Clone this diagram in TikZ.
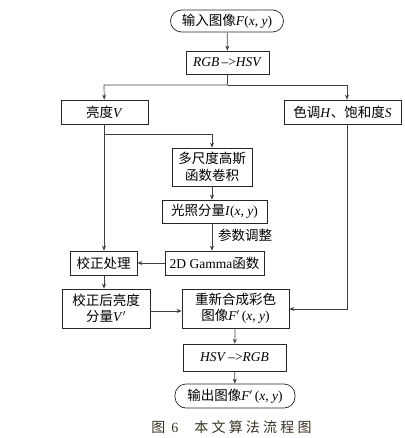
\documentclass[tikz,border=0pt]{standalone}
\usepackage{fontspec}
\setmainfont{Liberation Serif}
\newfontfamily\cjk{Noto Sans CJK SC}
\usetikzlibrary{arrows.meta}
\definecolor{capcol}{RGB}{55,50,35}
\tikzset{
  box/.style={draw=black!85, line width=0.7pt, rectangle, inner sep=1pt, align=center, font=\fontsize{13.5}{16.5}\selectfont},
  term/.style={box, rounded corners=11pt},
  conn/.style={draw=black!75, line width=0.7pt},
  arr/.style={conn, -{Stealth[length=5pt,width=4pt]}},
}
\newcommand{\cs}[1]{\hspace{3.2pt}#1}
\begin{document}
\begin{tikzpicture}[x=1pt,y=-1pt]
\useasboundingbox (0,0) rectangle (404,438);
\node[term, minimum width=113pt, minimum height=22pt] (in) at (227,21) {{\cjk 输入图像}\textit{F}(\textit{x}, \textit{y})};
\node[box, minimum width=83pt, minimum height=23pt] (rgb) at (227.5,62.5) {\textit{RGB}\,–>\textit{HSV}};
\node[box, minimum width=87pt, minimum height=24pt] (V) at (104.5,112) {{\cjk 亮度}\textit{V}};
\node[box, minimum width=117pt, minimum height=24pt] (HS) at (342.5,112) {{\cjk 色调}\textit{H}{\cjk 、饱和度}\textit{S}};
\node[box, minimum width=80pt, minimum height=38pt] (ms) at (212,167) {\cjk 多尺度高斯\\\cjk 函数卷积};
\node[box, minimum width=105pt, minimum height=23pt] (lf) at (214.5,211.5) {{\cjk 光照分量}\textit{I}(\textit{x}, \textit{y})};
\node[box, minimum width=99pt, minimum height=24pt] (gm) at (214.5,263) {2D Gamma{\cjk 函数}};
\node[box, minimum width=67pt, minimum height=24pt] (jz) at (103.5,263) {\cjk 校正处理};
\node[box, minimum width=88pt, minimum height=39pt] (jzh) at (106,308.5) {\cjk 校正后亮度\\{\cjk 分量}\textit{V}$'$};
\node[box, minimum width=107pt, minimum height=39pt] (cs) at (235.5,308.5) {\cjk 重新合成彩色\\{\cjk 图像}\textit{F}$'$\,(\textit{x}, \textit{y})};
\node[box, minimum width=103pt, minimum height=27pt] (hr) at (234.5,357.5) {\textit{HSV}\,–>\textit{RGB}};
\node[term, minimum width=120pt, minimum height=24pt] (out) at (235,396) {{\cjk 输出图像}\textit{F}$'$\,(\textit{x}, \textit{y})};
\node[font=\fontsize{14}{16}\selectfont, text=capcol, inner sep=0pt] (cap) at (231.5,427) {{\cjk 图}\hspace{6pt}6\hspace{16pt}{\cjk 本\cs{文}\cs{算}\cs{法}\cs{流}\cs{程}\cs{图}}};
\node[anchor=west, inner sep=0pt, font=\fontsize{13.5}{16}\selectfont] (lbl) at (218,235.5) {\cjk 参数调整};
\coordinate (sp) at (227.5,85);
\coordinate (spl) at (104,85);
\coordinate (spr) at (347,85);
\coordinate (br) at (104,134);
\coordinate (brr) at (212,134);
\coordinate (hsd) at (347,309);
\draw[arr] (in) -- (rgb);
\draw[conn] (rgb) -- (sp);
\draw[arr] (sp) -- (spl) -- (V);
\draw[arr] (sp) -- (spr) -- (spr |- HS.north);
\draw[arr] (V.south -| br) -- (jz.north -| br);
\draw[arr] (br) -- (brr) -- (ms);
\draw[arr] (ms) -- (lf.north -| ms);
\draw[arr] (lf.south -| ms) -- (gm.north -| ms);
\draw[arr] (gm) -- (jz);
\draw[arr] (jz.south -| br) -- (jzh.north -| br);
\draw[arr] (jzh.east |- 0,311) -- (cs.west |- 0,311);
\draw[arr] (HS.south -| hsd) -- (hsd) -- (cs.east |- hsd);
\draw[arr] (cs) -- (hr);
\draw[arr] (hr) -- (out);
\end{tikzpicture}
\end{document}
